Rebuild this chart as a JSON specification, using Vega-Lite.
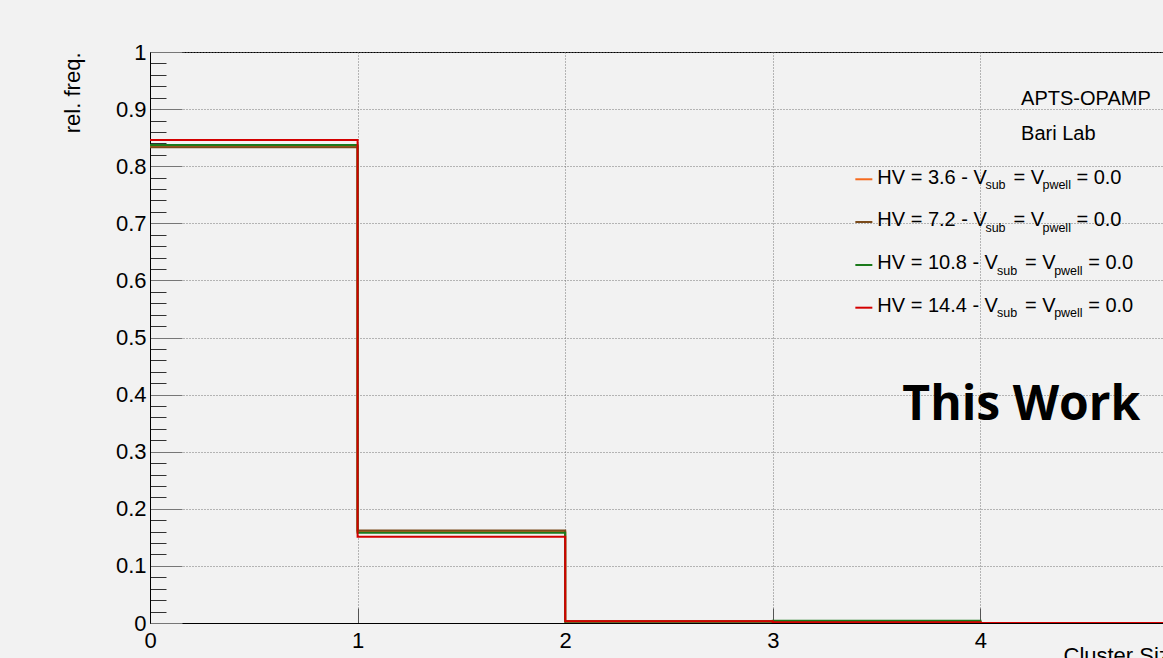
{
  "$schema": "https://vega.github.io/schema/vega-lite/v6.json",
  "width": 1038,
  "height": 571,
  "autosize": "none",
  "padding": {"left": 150, "top": 52, "right": 0, "bottom": 35},
  "background": "#f2f2f2",
  "config": {
    "view": {"stroke": "#000000", "strokeWidth": 1, "fill": "#f2f2f2"},
    "font": "Liberation Sans",
    "text": {"font": "Liberation Sans", "color": "#000000", "align": "left", "baseline": "alphabetic"}
  },
  "datasets": {
    "hist": [
      {"series": "HV = 3.6", "x": 0, "y": 0.835},
      {"series": "HV = 3.6", "x": 1, "y": 0.160},
      {"series": "HV = 3.6", "x": 2, "y": 0.003},
      {"series": "HV = 3.6", "x": 3, "y": 0.002},
      {"series": "HV = 3.6", "x": 4, "y": 0.0},
      {"series": "HV = 3.6", "x": 5, "y": 0.0},
      {"series": "HV = 7.2", "x": 0, "y": 0.833},
      {"series": "HV = 7.2", "x": 1, "y": 0.162},
      {"series": "HV = 7.2", "x": 2, "y": 0.003},
      {"series": "HV = 7.2", "x": 3, "y": 0.002},
      {"series": "HV = 7.2", "x": 4, "y": 0.0},
      {"series": "HV = 7.2", "x": 5, "y": 0.0},
      {"series": "HV = 10.8", "x": 0, "y": 0.837},
      {"series": "HV = 10.8", "x": 1, "y": 0.158},
      {"series": "HV = 10.8", "x": 2, "y": 0.002},
      {"series": "HV = 10.8", "x": 3, "y": 0.004},
      {"series": "HV = 10.8", "x": 4, "y": 0.0},
      {"series": "HV = 10.8", "x": 5, "y": 0.0},
      {"series": "HV = 14.4", "x": 0, "y": 0.846},
      {"series": "HV = 14.4", "x": 1, "y": 0.151},
      {"series": "HV = 14.4", "x": 2, "y": 0.003},
      {"series": "HV = 14.4", "x": 3, "y": 0.0015},
      {"series": "HV = 14.4", "x": 4, "y": 0.0},
      {"series": "HV = 14.4", "x": 5, "y": 0.0}
    ]
  },
  "layer": [
    {
      "data": {"name": "hist"},
      "mark": {"type": "line", "interpolate": "step-after", "strokeWidth": 2, "clip": true},
      "encoding": {
        "x": {
          "field": "x", "type": "quantitative",
          "scale": {"domain": [0, 5], "nice": false, "zero": false},
          "axis": {
            "values": [0, 1, 2, 3, 4, 5],
            "tickCount": 100,
            "format": "d",
            "labelFlush": false,
            "labelFontSize": 22,
            "labelColor": "#000000",
            "labelFont": "Liberation Sans",
            "labelPadding": 22,
            "tickSize": -15,
            "tickColor": "#555555",
            "tickWidth": 1,
            "domainColor": "#000000",
            "grid": true,
            "gridColor": "#777777",
            "gridDash": [1, 2],
            "gridWidth": 1,
            "title": "Cluster Size",
            "titleFont": "Liberation Sans",
            "titleFontSize": 22,
            "titleFontWeight": "normal",
            "titleColor": "#000000",
            "titleAnchor": "start",
            "titleAlign": "left",
            "titleBaseline": "top",
            "titleX": 913,
            "titleY": 22
          }
        },
        "y": {
          "field": "y", "type": "quantitative",
          "scale": {"domain": [0, 1], "nice": false},
          "axis": {
            "values": [0, 0.02, 0.04, 0.06, 0.08, 0.1, 0.12, 0.14, 0.16, 0.18, 0.2, 0.22, 0.24, 0.26, 0.28, 0.3, 0.32, 0.34, 0.36, 0.38, 0.4, 0.42, 0.44, 0.46, 0.48, 0.5, 0.52, 0.54, 0.56, 0.58, 0.6, 0.62, 0.64, 0.66, 0.68, 0.7, 0.72, 0.74, 0.76, 0.78, 0.8, 0.82, 0.84, 0.86, 0.88, 0.9, 0.92, 0.94, 0.96, 0.98, 1],
            "tickCount": 100,
            "labelOverlap": false,
            "labelExpr": "round(datum.value*100) % 10 == 0 ? format(datum.value, '.1~f') : ''",
            "labelFlush": false,
            "labelFontSize": 22,
            "labelColor": "#000000",
            "labelFont": "Liberation Sans",
            "labelPadding": 36,
            "tickSize": {"condition": {"test": "round(datum.value*100) % 10 == 0", "value": -32}, "value": -16},
            "tickColor": {"condition": {"test": "round(datum.value*100) % 10 == 0", "value": "#777777"}, "value": "#333333"},
            "tickWidth": 1,
            "domainColor": "#000000",
            "grid": true,
            "gridColor": "#777777",
            "gridDash": [1, 2],
            "gridWidth": 1,
            "gridOpacity": {"condition": {"test": "round(datum.value*100) % 10 == 0", "value": 1}, "value": 0},
            "title": "rel. freq.",
            "titleFont": "Liberation Sans",
            "titleFontSize": 22,
            "titleFontWeight": "normal",
            "titleColor": "#000000",
            "titleAnchor": "end",
            "titleAlign": "right",
            "titlePadding": 31
          }
        },
        "color": {
          "field": "series", "type": "nominal",
          "scale": {"domain": ["HV = 3.6", "HV = 7.2", "HV = 10.8", "HV = 14.4"], "range": ["#f56a1e", "#7a4a1a", "#1b7a1b", "#d40000"]},
          "legend": null
        }
      }
    },
    {"data": {"values": [{}]}, "mark": {"type": "rule", "color": "#f56a1e", "strokeWidth": 2}, "encoding": {"x": {"datum": 3.3976}, "x2": {"datum": 3.4795}, "y": {"datum": 0.7771}}},
    {"data": {"values": [{}]}, "mark": {"type": "rule", "color": "#7a4a1a", "strokeWidth": 2}, "encoding": {"x": {"datum": 3.3976}, "x2": {"datum": 3.4795}, "y": {"datum": 0.7023}}},
    {"data": {"values": [{}]}, "mark": {"type": "rule", "color": "#1b7a1b", "strokeWidth": 2}, "encoding": {"x": {"datum": 3.3976}, "x2": {"datum": 3.4795}, "y": {"datum": 0.6270}}},
    {"data": {"values": [{}]}, "mark": {"type": "rule", "color": "#d40000", "strokeWidth": 2}, "encoding": {"x": {"datum": 3.3976}, "x2": {"datum": 3.4795}, "y": {"datum": 0.5522}}},

    {"data": {"values": [{}]}, "mark": {"type": "text", "fontSize": 20}, "encoding": {"x": {"datum": 3.5036}, "y": {"datum": 0.7697}, "text": {"value": "HV = 3.6 - V"}}},
    {"data": {"values": [{}]}, "mark": {"type": "text", "fontSize": 12.5, "dy": 5.5}, "encoding": {"x": {"datum": 4.0241}, "y": {"datum": 0.7697}, "text": {"value": "sub"}}},
    {"data": {"values": [{}]}, "mark": {"type": "text", "fontSize": 20}, "encoding": {"x": {"datum": 4.1590}, "y": {"datum": 0.7697}, "text": {"value": "= V"}}},
    {"data": {"values": [{}]}, "mark": {"type": "text", "fontSize": 12.5, "dy": 5.5}, "encoding": {"x": {"datum": 4.2988}, "y": {"datum": 0.7697}, "text": {"value": "pwell"}}},
    {"data": {"values": [{}]}, "mark": {"type": "text", "fontSize": 20}, "encoding": {"x": {"datum": 4.4627}, "y": {"datum": 0.7697}, "text": {"value": "= 0.0"}}},

    {"data": {"values": [{}]}, "mark": {"type": "text", "fontSize": 20}, "encoding": {"x": {"datum": 3.5036}, "y": {"datum": 0.6947}, "text": {"value": "HV = 7.2 - V"}}},
    {"data": {"values": [{}]}, "mark": {"type": "text", "fontSize": 12.5, "dy": 5.5}, "encoding": {"x": {"datum": 4.0241}, "y": {"datum": 0.6947}, "text": {"value": "sub"}}},
    {"data": {"values": [{}]}, "mark": {"type": "text", "fontSize": 20}, "encoding": {"x": {"datum": 4.1590}, "y": {"datum": 0.6947}, "text": {"value": "= V"}}},
    {"data": {"values": [{}]}, "mark": {"type": "text", "fontSize": 12.5, "dy": 5.5}, "encoding": {"x": {"datum": 4.2988}, "y": {"datum": 0.6947}, "text": {"value": "pwell"}}},
    {"data": {"values": [{}]}, "mark": {"type": "text", "fontSize": 20}, "encoding": {"x": {"datum": 4.4627}, "y": {"datum": 0.6947}, "text": {"value": "= 0.0"}}},

    {"data": {"values": [{}]}, "mark": {"type": "text", "fontSize": 20}, "encoding": {"x": {"datum": 3.5036}, "y": {"datum": 0.6196}, "text": {"value": "HV = 10.8 - V"}}},
    {"data": {"values": [{}]}, "mark": {"type": "text", "fontSize": 12.5, "dy": 5.5}, "encoding": {"x": {"datum": 4.0805}, "y": {"datum": 0.6196}, "text": {"value": "sub"}}},
    {"data": {"values": [{}]}, "mark": {"type": "text", "fontSize": 20}, "encoding": {"x": {"datum": 4.2154}, "y": {"datum": 0.6196}, "text": {"value": "= V"}}},
    {"data": {"values": [{}]}, "mark": {"type": "text", "fontSize": 12.5, "dy": 5.5}, "encoding": {"x": {"datum": 4.3552}, "y": {"datum": 0.6196}, "text": {"value": "pwell"}}},
    {"data": {"values": [{}]}, "mark": {"type": "text", "fontSize": 20}, "encoding": {"x": {"datum": 4.5190}, "y": {"datum": 0.6196}, "text": {"value": "= 0.0"}}},

    {"data": {"values": [{}]}, "mark": {"type": "text", "fontSize": 20}, "encoding": {"x": {"datum": 3.5036}, "y": {"datum": 0.5447}, "text": {"value": "HV = 14.4 - V"}}},
    {"data": {"values": [{}]}, "mark": {"type": "text", "fontSize": 12.5, "dy": 5.5}, "encoding": {"x": {"datum": 4.0805}, "y": {"datum": 0.5447}, "text": {"value": "sub"}}},
    {"data": {"values": [{}]}, "mark": {"type": "text", "fontSize": 20}, "encoding": {"x": {"datum": 4.2154}, "y": {"datum": 0.5447}, "text": {"value": "= V"}}},
    {"data": {"values": [{}]}, "mark": {"type": "text", "fontSize": 12.5, "dy": 5.5}, "encoding": {"x": {"datum": 4.3552}, "y": {"datum": 0.5447}, "text": {"value": "pwell"}}},
    {"data": {"values": [{}]}, "mark": {"type": "text", "fontSize": 20}, "encoding": {"x": {"datum": 4.5190}, "y": {"datum": 0.5447}, "text": {"value": "= 0.0"}}},

    {"data": {"values": [{}]}, "mark": {"type": "text", "fontSize": 20}, "encoding": {"x": {"datum": 4.196}, "y": {"datum": 0.9072}, "text": {"value": "APTS-OPAMP"}}},
    {"data": {"values": [{}]}, "mark": {"type": "text", "fontSize": 20}, "encoding": {"x": {"datum": 4.196}, "y": {"datum": 0.8459}, "text": {"value": "Bari Lab"}}},
    {"data": {"values": [{}]}, "mark": {"type": "text", "fontSize": 48, "font": "Open Sans", "fontWeight": "bold"}, "encoding": {"x": {"datum": 3.624}, "y": {"datum": 0.3555}, "text": {"value": "This Work"}}}
  ]
}
